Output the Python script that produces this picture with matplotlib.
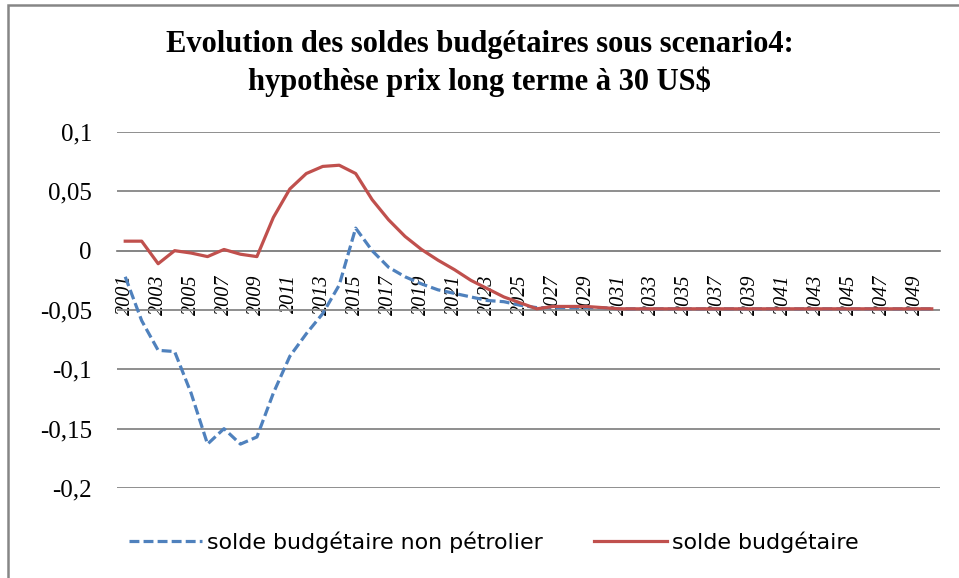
import numpy as np
import matplotlib.pyplot as plt
from matplotlib.patches import Rectangle

# years and the two series
years = list(range(2001, 2051))
solde_non_petrolier = [-0.022, -0.059, -0.084, -0.085, -0.120, -0.163, -0.150, -0.163, -0.157, -0.120,
                       -0.089, -0.070, -0.053, -0.029, 0.019, 0.000, -0.014, -0.022, -0.028, -0.033,
                       -0.036, -0.039, -0.042, -0.043, -0.046, -0.048, -0.048, -0.048, -0.048, -0.048,
                       -0.049, -0.049, -0.049, -0.049, -0.049, -0.049, -0.049, -0.049, -0.049, -0.049,
                       -0.049, -0.049, -0.049, -0.049, -0.049, -0.049, -0.049, -0.049, -0.049, -0.049]
solde_budgetaire = [0.008, 0.008, -0.011, 0.000, -0.002, -0.005, 0.001, -0.003, -0.005, 0.028,
                    0.052, 0.065, 0.071, 0.072, 0.065, 0.043, 0.026, 0.012, 0.001, -0.008,
                    -0.016, -0.025, -0.032, -0.039, -0.044, -0.049, -0.047, -0.047, -0.047, -0.048,
                    -0.049, -0.049, -0.049, -0.049, -0.049, -0.049, -0.049, -0.049, -0.049, -0.049,
                    -0.049, -0.049, -0.049, -0.049, -0.049, -0.049, -0.049, -0.049, -0.049, -0.049]
y_ticks = [0.1, 0.05, 0, -0.05, -0.1, -0.15, -0.2]
y_labels = ['0,1', '0,05', '0', '-0,05', '-0,1', '-0,15', '-0,2']

fig = plt.figure(figsize=(9.59, 5.78), dpi=100)
ax = fig.add_axes([117/959, 1-488/578, (940-117)/959, (488-132)/578])

# frame around the whole chart (left and top edges visible)
fig.patches.append(Rectangle((8/959, -0.1), 1.2, 1.1 - 5/578, transform=fig.transFigure,
                             fill=False, edgecolor='#868686', linewidth=1.8))

x = np.arange(len(years))
ax.plot(x, solde_non_petrolier, color='#4F81BD', linewidth=2.3, linestyle=(0, (3.1, 1.3)),
        label='solde budgétaire non pétrolier', zorder=3)
ax.plot(x, solde_budgetaire, color='#C0504D', linewidth=2.3, label='solde budgétaire', zorder=4)

# horizontal axis crosses at 0 (set before tick labels, it resets the ticks)
ax.spines['bottom'].set_position(('data', 0))
ax.spines['bottom'].set_color('#868686')
ax.spines['bottom'].set_linewidth(1.3)
for s in ['top', 'right', 'left']:
    ax.spines[s].set_visible(False)

ax.set_xlim(-0.5, len(years) - 0.5)
ax.set_ylim(-0.2, 0.1)
ax.set_yticks(y_ticks)
ax.set_yticklabels(y_labels, fontfamily='Liberation Serif', fontsize=18)
ax.yaxis.grid(True, color='#868686', linewidth=1.3)
ax.set_axisbelow(True)

ax.set_xticks(x[::2])
ax.set_xticklabels([str(y) for y in years[::2]], rotation=90, fontfamily='Liberation Serif',
                   fontstyle='italic', fontsize=14.5)
ax.tick_params(axis='both', length=0)
ax.tick_params(axis='x', pad=17)
ax.tick_params(axis='y', pad=18)

fig.text(0.5, 1 - 63.5/578,
         'Evolution des soldes budgétaires sous scenario4:\nhypothèse prix long terme à 30 US$',
         ha='center', va='center', fontfamily='Liberation Serif', fontweight='bold',
         fontsize=22, linespacing=1.3)

fig.legend(loc='center', bbox_to_anchor=(0.515, 1-542/578), ncol=2, frameon=False,
           prop={'family': ['Liberation Sans Narrow', 'DejaVu Sans'], 'size': 15.9},
           handlelength=3.3, columnspacing=2.3, handletextpad=0.25)

fig.savefig('out.png', dpi=100)
